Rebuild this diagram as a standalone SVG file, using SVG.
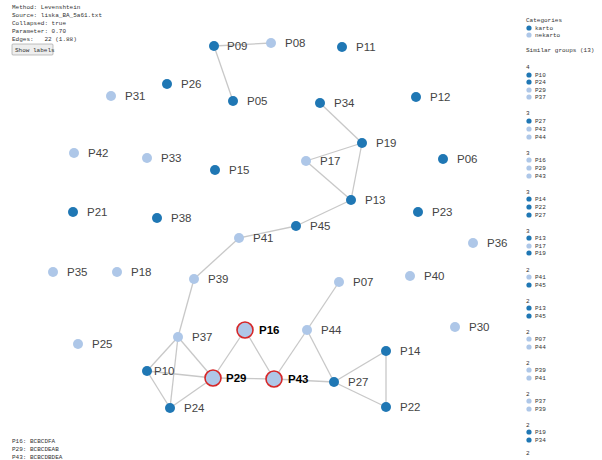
<svg xmlns="http://www.w3.org/2000/svg" width="602" height="460" viewBox="0 0 602 460">
<style>
.bg{fill:#fff}
.info{font-family:"Liberation Mono","DejaVu Sans Mono",monospace;font-size:6px;fill:#333;white-space:pre}
.lbl{font-family:"Liberation Sans",Arial,sans-serif;font-size:11.5px;fill:#444}
.hl{font-family:"Liberation Sans",Arial,sans-serif;font-size:11.5px;font-weight:bold;fill:#000}
.k{fill:#1f77b4}
.n{fill:#aec7e8}
.sel{fill:#aec7e8;stroke:#d62728;stroke-width:1.6}
.edge{stroke:#c8c8c8;stroke-width:1.3;fill:none}
.btn{fill:#eee;stroke:#999;stroke-width:0.6}
</style>
<rect class="bg" x="0" y="0" width="602" height="460"/>
<g id="info">
<text class="info" x="12" y="9">Method: Levenshtein</text>
<text class="info" x="12" y="17">Source: liska_BA_5a61.txt</text>
<text class="info" x="12" y="25">Collapsed: true</text>
<text class="info" x="12" y="33">Parameter: 0.70</text>
<text class="info" x="12" y="41" xml:space="preserve">Edges:   22 (1.88)</text>
<rect class="btn" x="12" y="44" width="41" height="11" rx="1"/>
<text class="info" x="15" y="52">Show labels</text>
</g>
<g id="connectors">
<line class="edge" x1="214" y1="46" x2="271" y2="43"/>
<line class="edge" x1="214" y1="46" x2="233" y2="101"/>
<line class="edge" x1="320" y1="103" x2="362" y2="143"/>
<line class="edge" x1="362" y1="143" x2="306" y2="161"/>
<line class="edge" x1="362" y1="143" x2="351" y2="200"/>
<line class="edge" x1="306" y1="161" x2="351" y2="200"/>
<line class="edge" x1="351" y1="200" x2="296" y2="226"/>
<line class="edge" x1="296" y1="226" x2="239" y2="238"/>
<line class="edge" x1="239" y1="238" x2="194" y2="279"/>
<line class="edge" x1="194" y1="279" x2="178" y2="337"/>
<line class="edge" x1="178" y1="337" x2="147" y2="371"/>
<line class="edge" x1="178" y1="337" x2="170" y2="408"/>
<line class="edge" x1="178" y1="337" x2="213" y2="378"/>
<line class="edge" x1="147" y1="371" x2="213" y2="378"/>
<line class="edge" x1="147" y1="371" x2="170" y2="408"/>
<line class="edge" x1="170" y1="408" x2="213" y2="378"/>
<line class="edge" x1="213" y1="378" x2="245" y2="330"/>
<line class="edge" x1="213" y1="378" x2="274" y2="379"/>
<line class="edge" x1="245" y1="330" x2="274" y2="379"/>
<line class="edge" x1="274" y1="379" x2="307" y2="330"/>
<line class="edge" x1="307" y1="330" x2="339" y2="282"/>
<line class="edge" x1="307" y1="330" x2="334" y2="382"/>
<line class="edge" x1="274" y1="379" x2="334" y2="382"/>
<line class="edge" x1="334" y1="382" x2="386" y2="351"/>
<line class="edge" x1="334" y1="382" x2="386" y2="407"/>
<line class="edge" x1="386" y1="351" x2="386" y2="407"/>
</g>
<g id="P09"><circle class="k" cx="214" cy="46" r="5"/><text class="lbl" x="227" y="50">P09</text></g>
<g id="P08"><circle class="n" cx="271" cy="43" r="5"/><text class="lbl" x="285" y="47">P08</text></g>
<g id="P11"><circle class="k" cx="342" cy="47" r="5"/><text class="lbl" x="356" y="51">P11</text></g>
<g id="P26"><circle class="k" cx="167" cy="84" r="5"/><text class="lbl" x="181" y="88">P26</text></g>
<g id="P31"><circle class="n" cx="111" cy="96" r="5"/><text class="lbl" x="125" y="100">P31</text></g>
<g id="P05"><circle class="k" cx="233" cy="101" r="5"/><text class="lbl" x="247" y="105">P05</text></g>
<g id="P34"><circle class="k" cx="320" cy="103" r="5"/><text class="lbl" x="334" y="107">P34</text></g>
<g id="P12"><circle class="k" cx="416" cy="97" r="5"/><text class="lbl" x="430" y="101">P12</text></g>
<g id="P19"><circle class="k" cx="362" cy="143" r="5"/><text class="lbl" x="376" y="147">P19</text></g>
<g id="P17"><circle class="n" cx="306" cy="161" r="5"/><text class="lbl" x="320" y="165">P17</text></g>
<g id="P42"><circle class="n" cx="74" cy="153" r="5"/><text class="lbl" x="88" y="157">P42</text></g>
<g id="P33"><circle class="n" cx="147" cy="158" r="5"/><text class="lbl" x="161" y="162">P33</text></g>
<g id="P15"><circle class="k" cx="215" cy="170" r="5"/><text class="lbl" x="229" y="174">P15</text></g>
<g id="P06"><circle class="k" cx="443" cy="159" r="5"/><text class="lbl" x="457" y="163">P06</text></g>
<g id="P13"><circle class="k" cx="351" cy="200" r="5"/><text class="lbl" x="365" y="204">P13</text></g>
<g id="P21"><circle class="k" cx="73" cy="212" r="5"/><text class="lbl" x="87" y="216">P21</text></g>
<g id="P38"><circle class="k" cx="157" cy="218" r="5"/><text class="lbl" x="171" y="222">P38</text></g>
<g id="P45"><circle class="k" cx="296" cy="226" r="5"/><text class="lbl" x="310" y="230">P45</text></g>
<g id="P23"><circle class="k" cx="418" cy="212" r="5"/><text class="lbl" x="432" y="216">P23</text></g>
<g id="P41"><circle class="n" cx="239" cy="238" r="5"/><text class="lbl" x="253" y="242">P41</text></g>
<g id="P36"><circle class="n" cx="473" cy="243" r="5"/><text class="lbl" x="487" y="247">P36</text></g>
<g id="P35"><circle class="n" cx="53" cy="272" r="5"/><text class="lbl" x="67" y="276">P35</text></g>
<g id="P18"><circle class="n" cx="117" cy="272" r="5"/><text class="lbl" x="131" y="276">P18</text></g>
<g id="P39"><circle class="n" cx="194" cy="279" r="5"/><text class="lbl" x="208" y="283">P39</text></g>
<g id="P40"><circle class="n" cx="410" cy="276" r="5"/><text class="lbl" x="424" y="280">P40</text></g>
<g id="P07"><circle class="n" cx="339" cy="282" r="5"/><text class="lbl" x="353" y="286">P07</text></g>
<g id="P30"><circle class="n" cx="455" cy="327" r="5"/><text class="lbl" x="469" y="331">P30</text></g>
<g id="P44"><circle class="n" cx="307" cy="330" r="5"/><text class="lbl" x="321" y="334">P44</text></g>
<g id="P37"><circle class="n" cx="178" cy="337" r="5"/><text class="lbl" x="192" y="341">P37</text></g>
<g id="P25"><circle class="n" cx="78" cy="344" r="5"/><text class="lbl" x="92" y="348">P25</text></g>
<g id="P14"><circle class="k" cx="386" cy="351" r="5"/><text class="lbl" x="400" y="355">P14</text></g>
<g id="P10"><circle class="k" cx="147" cy="371" r="5"/><text class="lbl" x="154" y="375">P10</text></g>
<g id="P27"><circle class="k" cx="334" cy="382" r="5"/><text class="lbl" x="348" y="386">P27</text></g>
<g id="P24"><circle class="k" cx="170" cy="408" r="5"/><text class="lbl" x="184" y="412">P24</text></g>
<g id="P22"><circle class="k" cx="386" cy="407" r="5"/><text class="lbl" x="400" y="411">P22</text></g>
<g id="P16"><circle class="sel" cx="245" cy="330" r="8"/><text class="hl" x="259" y="334">P16</text></g>
<g id="P29"><circle class="sel" cx="213" cy="378" r="8"/><text class="hl" x="226" y="382">P29</text></g>
<g id="P43"><circle class="sel" cx="274" cy="379" r="8"/><text class="hl" x="288" y="383">P43</text></g>
<g id="selection">
<text class="info" x="12" y="443">P16: BCBCDFA</text>
<text class="info" x="12" y="451">P29: BCBCDEAB</text>
<text class="info" x="12" y="459">P43: BCBCDBDEA</text>
</g>
<g id="legend">
<text class="info" x="526" y="22">Categories</text>
<circle class="k" cx="529" cy="28" r="2.6"/><text class="info" x="535" y="30">karto</text>
<circle class="n" cx="529" cy="35" r="2.6"/><text class="info" x="535" y="37">nekarto</text>
<text class="info" x="526" y="52">Similar groups (13)</text>
</g>
<g id="groups">
<text class="info" x="526" y="69">4</text>
<circle class="k" cx="529" cy="75" r="2.6"/><text class="info" x="535" y="77">P10</text>
<circle class="k" cx="529" cy="82" r="2.6"/><text class="info" x="535" y="84">P24</text>
<circle class="n" cx="529" cy="90" r="2.6"/><text class="info" x="535" y="92">P29</text>
<circle class="n" cx="529" cy="97" r="2.6"/><text class="info" x="535" y="99">P37</text>
<text class="info" x="526" y="115">3</text>
<circle class="k" cx="529" cy="121" r="2.6"/><text class="info" x="535" y="123">P27</text>
<circle class="n" cx="529" cy="129" r="2.6"/><text class="info" x="535" y="131">P43</text>
<circle class="n" cx="529" cy="137" r="2.6"/><text class="info" x="535" y="139">P44</text>
<text class="info" x="526" y="155">3</text>
<circle class="n" cx="529" cy="160" r="2.6"/><text class="info" x="535" y="162">P16</text>
<circle class="n" cx="529" cy="168" r="2.6"/><text class="info" x="535" y="170">P29</text>
<circle class="n" cx="529" cy="176" r="2.6"/><text class="info" x="535" y="178">P43</text>
<text class="info" x="526" y="194">3</text>
<circle class="k" cx="529" cy="199" r="2.6"/><text class="info" x="535" y="201">P14</text>
<circle class="k" cx="529" cy="207" r="2.6"/><text class="info" x="535" y="209">P22</text>
<circle class="k" cx="529" cy="215" r="2.6"/><text class="info" x="535" y="217">P27</text>
<text class="info" x="526" y="233">3</text>
<circle class="k" cx="529" cy="238" r="2.6"/><text class="info" x="535" y="240">P13</text>
<circle class="n" cx="529" cy="246" r="2.6"/><text class="info" x="535" y="248">P17</text>
<circle class="k" cx="529" cy="253" r="2.6"/><text class="info" x="535" y="255">P19</text>
<text class="info" x="526" y="272">2</text>
<circle class="n" cx="529" cy="277" r="2.6"/><text class="info" x="535" y="279">P41</text>
<circle class="k" cx="529" cy="285" r="2.6"/><text class="info" x="535" y="287">P45</text>
<text class="info" x="526" y="303">2</text>
<circle class="k" cx="529" cy="308" r="2.6"/><text class="info" x="535" y="310">P13</text>
<circle class="k" cx="529" cy="316" r="2.6"/><text class="info" x="535" y="318">P45</text>
<text class="info" x="526" y="334">2</text>
<circle class="n" cx="529" cy="339" r="2.6"/><text class="info" x="535" y="341">P07</text>
<circle class="n" cx="529" cy="347" r="2.6"/><text class="info" x="535" y="349">P44</text>
<text class="info" x="526" y="365">2</text>
<circle class="n" cx="529" cy="370" r="2.6"/><text class="info" x="535" y="372">P39</text>
<circle class="n" cx="529" cy="378" r="2.6"/><text class="info" x="535" y="380">P41</text>
<text class="info" x="526" y="396">2</text>
<circle class="n" cx="529" cy="401" r="2.6"/><text class="info" x="535" y="403">P37</text>
<circle class="n" cx="529" cy="409" r="2.6"/><text class="info" x="535" y="411">P39</text>
<text class="info" x="526" y="427">2</text>
<circle class="k" cx="529" cy="432" r="2.6"/><text class="info" x="535" y="434">P19</text>
<circle class="k" cx="529" cy="440" r="2.6"/><text class="info" x="535" y="442">P34</text>
<text class="info" x="526" y="455">2</text>
</g>
</svg>
